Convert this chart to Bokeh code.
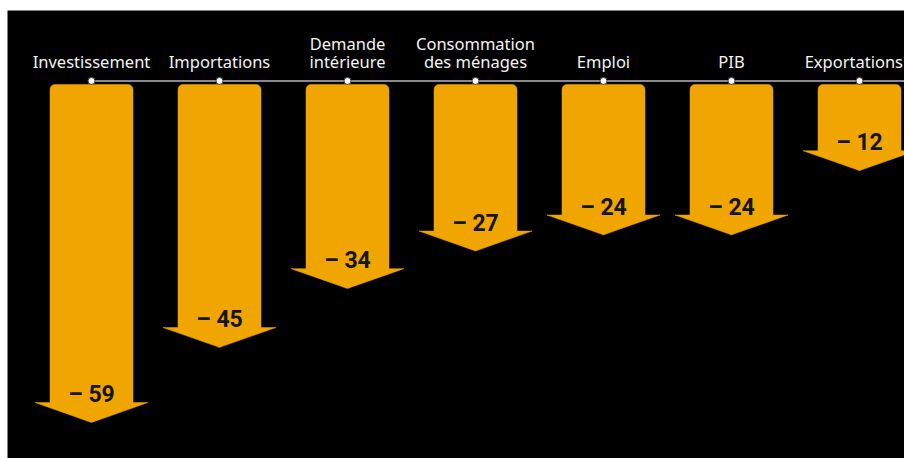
from bokeh.plotting import figure
from bokeh.models import Range1d, ColumnDataSource
from bokeh.core.properties import value
from bokeh.embed import file_html
from bokeh.resources import INLINE
import numpy as np

categories = ["Investissement", "Importations", "Demande\nintérieure",
              "Consommation\ndes ménages", "Emploi", "PIB", "Exportations"]
values = [-59, -45, -34, -27, -24, -24, -12]

W, H = 904, 458
X0, X1 = -0.65625, 6.3516
p = figure(width=W, height=H, output_backend="svg", toolbar_location=None,
           x_range=Range1d(X0, X1), y_range=Range1d(-65.7, 17.9),
           min_border_left=7, min_border_top=10, min_border_right=0, min_border_bottom=0,
           background_fill_color="black", border_fill_color="white")
p.outline_line_color = None
p.axis.visible = False
p.grid.visible = False

px_x = 1 / 128.0   # data units per pixel in x
px_y = 1 / 5.36    # data units per pixel in y

shaft_hw = 41.5 * px_x
head_hw = 56.5 * px_x
head_h = 20 * px_y
top = 22 * px_y
rx, ry = 5 * px_x, 5 * px_y

xs_all, ys_all = [], []
for i, v in enumerate(values):
    cx = i
    xs, ys = [], []
    xs += [cx - shaft_hw, cx - head_hw, cx - 3 * px_x, cx, cx + 3 * px_x, cx + head_hw, cx + shaft_hw]
    ys += [v + head_h, v + head_h, v + 1.2 * px_y, v, v + 1.2 * px_y, v + head_h, v + head_h]
    for a in np.linspace(0, np.pi / 2, 6):
        xs.append(cx + shaft_hw - rx + rx * np.cos(a))
        ys.append(top - ry + ry * np.sin(a))
    for a in np.linspace(np.pi / 2, np.pi, 6):
        xs.append(cx - shaft_hw + rx + rx * np.cos(a))
        ys.append(top - ry + ry * np.sin(a))
    xs_all.append(xs)
    ys_all.append(ys)

p.patches(xs_all, ys_all, fill_color="#F0A500", line_color="#F0A500", line_width=0.5)

line_y = 25.5 * px_y
n = len(categories)
p.segment(x0=[0], y0=[line_y], x1=[X1], y1=[line_y], line_color="#8a8a8a", line_width=2)
p.scatter(x=list(range(n)), y=[line_y] * n, size=7, fill_color="white", line_color="#444", line_width=1)

lab_x = list(range(n))
lab_align = ["center"] * n
lab_x[-1] = X1 - 1.5 * px_x
lab_align[-1] = "right"
src = ColumnDataSource(dict(x=lab_x, y=[33 * px_y] * n, t=categories, a=lab_align))
p.text(x="x", y="y", text="t", source=src, text_align="a", text_baseline="bottom",
       text_color="#f4f4f4", text_font=value("Noto Sans"), text_font_size="16.5px",
       text_line_height=0.8)

vsrc = ColumnDataSource(dict(x=list(range(n)), y=[v + 28 * px_y for v in values],
                             t=[f"– {abs(v)}" for v in values]))
p.text(x="x", y="y", text="t", source=vsrc, text_align="center", text_baseline="middle",
       text_color="#151515", text_font=value("Roboto"), text_font_style="bold",
       text_font_size="23px")

open("out.html", "w").write(file_html(p, INLINE))
